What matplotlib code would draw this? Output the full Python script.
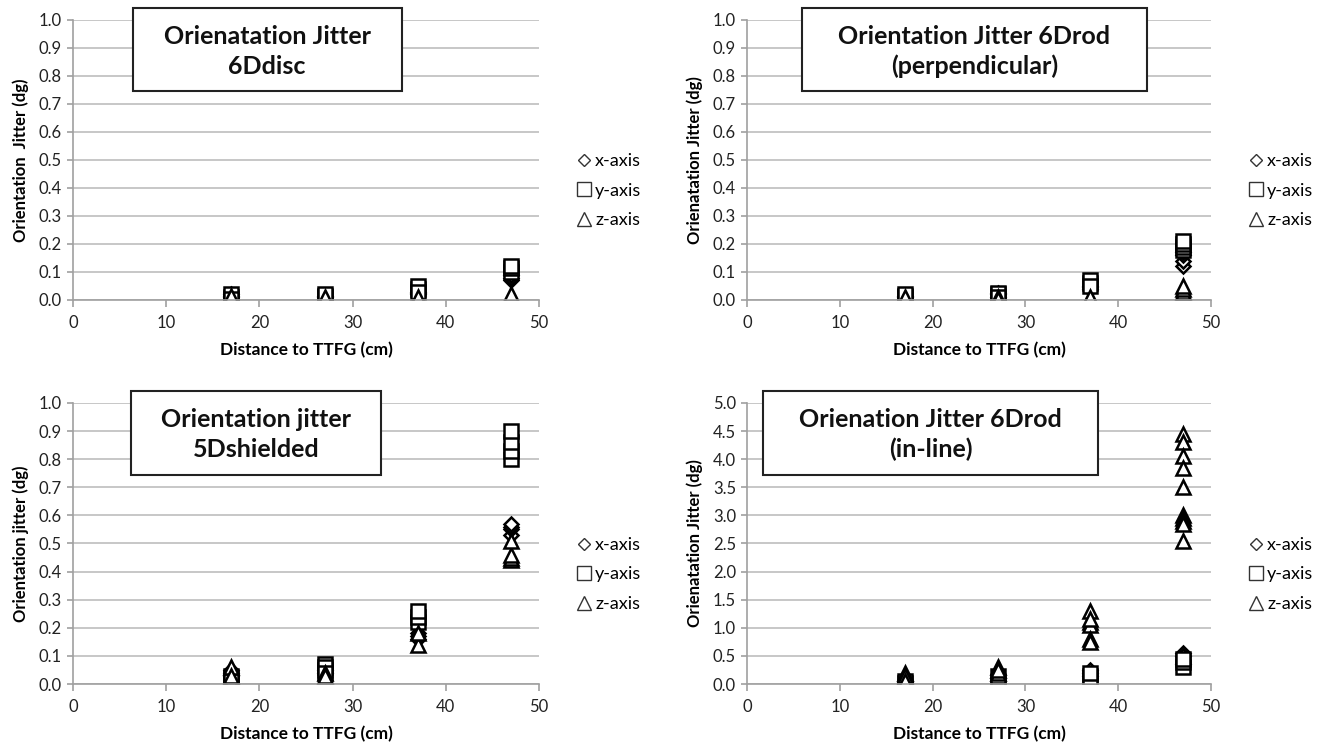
import matplotlib.pyplot as plt
from matplotlib.lines import Line2D
from matplotlib.patches import Rectangle

plt.rcParams['font.family'] = ['Lato', 'DejaVu Sans']

distances = [17, 27, 37, 47]

# 6Ddisc
disc_x = [[0.01, 0.02, 0.015, 0.005], [0.01, 0.005, 0.015], [0.03, 0.02, 0.025], [0.07, 0.08, 0.09]]
disc_y = [[0.01, 0.02, 0.005], [0.01, 0.015, 0.02], [0.04, 0.05, 0.03], [0.10, 0.115, 0.12]]
disc_z = [[0.0, 0.015], [0.005, 0.01], [0.005, 0.01], [0.01, 0.02]]

# 6Drod perpendicular
perp_x = [[0.01, 0.005, 0.015], [0.02, 0.01, 0.025], [0.05, 0.04, 0.045], [0.12, 0.14, 0.16, 0.17]]
perp_y = [[0.01, 0.015, 0.02], [0.02, 0.025, 0.01], [0.06, 0.07, 0.05], [0.18, 0.19, 0.20, 0.21]]
perp_z = [[0.005, 0.01], [0.01, 0.005], [0.005, 0.01], [0.02, 0.03, 0.04, 0.05]]

# 5Dshielded
shld_x = [[0.03, 0.05, 0.04], [0.04, 0.05], [0.16, 0.18, 0.17], [0.53, 0.55, 0.56, 0.57]]
shld_y = [[0.02, 0.03, 0.01], [0.05, 0.07, 0.06, 0.04], [0.22, 0.24, 0.26], [0.80, 0.83, 0.86, 0.90]]
shld_z = [[0.06, 0.01, 0.03], [0.04, 0.03], [0.14, 0.18], [0.44, 0.45, 0.46, 0.51]]

# 6Drod in-line
inl_x = [[0.03, 0.06], [0.1, 0.05], [0.2, 0.15, 0.25], [0.55, 0.5, 0.35]]
inl_y = [[0.02, 0.05], [0.03, 0.15], [0.15, 0.1, 0.2], [0.3, 0.4, 0.45]]
inl_z = [[0.1, 0.2, 0.15, 0.05], [0.3, 0.2, 0.25], [1.3, 1.1, 1.05, 1.15, 0.8, 0.75],
         [4.45, 4.3, 4.05, 3.85, 3.5, 3.0, 2.95, 2.9, 2.85, 2.55]]

panels = [
    ([0.0552, 0.5979, 0.3525, 0.3753], disc_x, disc_y, disc_z, 1.0,
     'Orienatation Jitter\n6Ddisc', 'Orientation  Jitter (dg)', (0.1285, 0.705)),
    ([0.5651, 0.5979, 0.3510, 0.3753], perp_x, perp_y, perp_z, 1.0,
     'Orientation Jitter 6Drod\n(perpendicular)', 'Orienatation Jitter (dg)', (0.118, 0.862)),
    ([0.0552, 0.0831, 0.3525, 0.3767], shld_x, shld_y, shld_z, 1.0,
     'Orientation jitter\n5Dshielded', 'Orientation jitter (dg)', (0.124, 0.661)),
    ([0.5651, 0.0831, 0.3510, 0.3767], inl_x, inl_y, inl_z, 5.0,
     'Orienation Jitter 6Drod\n(in-line)', 'Orienatation Jitter (dg)', (0.034, 0.757)),
]

fig = plt.figure(figsize=(13.22, 7.46), dpi=100)

def expand(vals):
    xs, ys = [], []
    for d, group in zip(distances, vals):
        for v in group:
            xs.append(d)
            ys.append(v)
    return xs, ys

for rect, sx, sy, sz, ymax, title, ylab, (bl, br) in panels:
    ax = fig.add_axes(rect)
    for vals, mk, ms in [(sx, 'D', 6.8), (sy, 's', 9.5), (sz, '^', 10)]:
        xs, ys = expand(vals)
        ax.plot(xs, ys, linestyle='none', marker=mk, markersize=ms,
                markerfacecolor='white', markeredgecolor='black', markeredgewidth=1.8)
    ax.set_xlim(0, 50)
    ax.set_ylim(0, ymax)
    step = ymax / 10
    ax.set_yticks([i * step for i in range(11)])
    ax.set_yticklabels([f'{i * step:.1f}' for i in range(11)])
    ax.set_xticks([0, 10, 20, 30, 40, 50])
    ax.yaxis.grid(True, color='#bdbdbd', linewidth=1.2)
    ax.set_axisbelow(True)
    for s in ['top', 'right']:
        ax.spines[s].set_visible(False)
    for s in ['left', 'bottom']:
        ax.spines[s].set_color('#a0a0a0')
        ax.spines[s].set_linewidth(1.2)
    ax.tick_params(axis='x', colors='#a0a0a0', length=5, width=1.2, labelcolor='#222222',
                   labelsize=12, pad=6)
    ax.tick_params(axis='y', colors='#a0a0a0', length=4, width=1.2, labelcolor='#222222',
                   labelsize=12, pad=4)
    ax.set_xlabel('Distance to TTFG (cm)', fontsize=12.5, fontweight='bold', labelpad=8)
    ax.set_ylabel(ylab, fontsize=12, fontweight='bold', labelpad=7)

    ax.add_patch(Rectangle((bl, 0.745), br - bl, 1.042 - 0.745, transform=ax.transAxes,
                           facecolor='white', edgecolor='#222222', linewidth=1.5,
                           clip_on=False, zorder=5))
    ax.text((bl + br) / 2, 0.887, title, transform=ax.transAxes, ha='center', va='center',
            fontsize=18, fontweight='bold', linespacing=1.35, color='#111111', zorder=6)

    handles = [
        Line2D([], [], linestyle='none', marker='D', markersize=6.5, markerfacecolor='white',
               markeredgecolor='#333333', markeredgewidth=1.0, label='x-axis'),
        Line2D([], [], linestyle='none', marker='s', markersize=10, markerfacecolor='white',
               markeredgecolor='#333333', markeredgewidth=1.0, label='y-axis'),
        Line2D([], [], linestyle='none', marker='^', markersize=10, markerfacecolor='white',
               markeredgecolor='#333333', markeredgewidth=1.0, label='z-axis'),
    ]
    ax.legend(handles=handles, loc='center left', bbox_to_anchor=(1.07, 0.39),
              frameon=False, fontsize=13, handlelength=0.6, handletextpad=0.3,
              labelspacing=0.75, borderaxespad=0)

fig.savefig('out.png', dpi=100)
